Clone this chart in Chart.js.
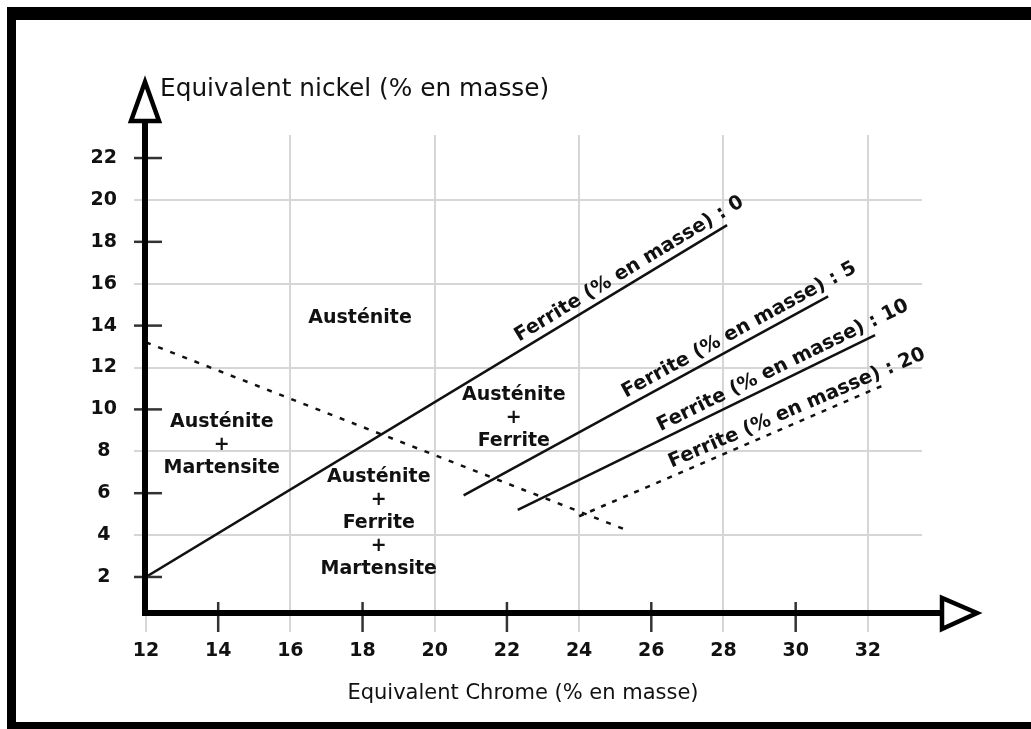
<!DOCTYPE html>
<html>
<head>
<meta charset="utf-8">
<script src="https://cdn.jsdelivr.net/npm/chart.js@4.4.1/dist/chart.umd.min.js"></script>
<style>
  html, body { margin: 0; padding: 0; background: #ffffff; }
  #wrap { width: 1031px; height: 729px; position: relative; }
</style>
</head>
<body>
<div id="wrap"><canvas id="c" width="1031" height="729"></canvas></div>
<script>
// ---- data ----
const xTicks = [12, 14, 16, 18, 20, 22, 24, 26, 28, 30, 32];
const yTicks = [2, 4, 6, 8, 10, 12, 14, 16, 18, 20, 22];
const xAxisTitle = "Equivalent Chrome (% en masse)";
const yAxisTitle = "Equivalent nickel (% en masse)";

const ferriteLevels = [0, 5, 10, 20];
const ferriteStartX = [12.0, 20.8, 22.3, 24.0];
const ferriteStartY = [2.0, 5.9, 5.2, 4.9];
const ferriteEndX = [28.1, 30.9, 32.2, 32.5];
const ferriteEndY = [18.8, 15.4, 13.55, 11.2];
const ferriteLabelX = [22.45, 25.4, 26.35, 26.65];

const martensiteX = [12.0, 25.3];
const martensiteY = [13.2, 4.25];

const regionTexts = [
  ["Austénite"],
  ["Austénite", "+", "Martensite"],
  ["Austénite", "+", "Ferrite"],
  ["Austénite", "+", "Ferrite", "+", "Martensite"]
];
const regionX = [17.93, 14.1, 22.19, 18.45];
const regionY = [14.36, 8.3, 9.59, 4.58];

// ---- build datasets ----
const datasets = [];
ferriteLevels.forEach((lvl, i) => {
  datasets.push({
    label: "Ferrite " + lvl,
    data: [{x: ferriteStartX[i], y: ferriteStartY[i]}, {x: ferriteEndX[i], y: ferriteEndY[i]}],
    showLine: true,
    borderColor: '#111111',
    borderWidth: 2.5,
    borderDash: lvl === 20 ? [5, 7] : [],
    pointRadius: 0,
    fill: false
  });
});
datasets.push({
  label: "Martensite",
  data: martensiteX.map((x, i) => ({x: x, y: martensiteY[i]})),
  showLine: true,
  borderColor: '#111111',
  borderWidth: 2.5,
  borderDash: [5, 8],
  pointRadius: 0,
  fill: false
});

const LIGHT = '#d6d6d6';
const FONT = "'DejaVu Sans', 'Noto Sans', sans-serif";

const decor = {
  id: 'decor',
  afterDraw(chart) {
    const ctx = chart.ctx;
    const xs = chart.scales.x, ys = chart.scales.y;
    const area = chart.chartArea;
    const x0 = xs.getPixelForValue(xTicks[0]);
    const yb = area.bottom;
    ctx.save();

    // dark tick marks
    ctx.strokeStyle = '#333333';
    ctx.lineWidth = 2.5;
    yTicks.forEach(v => {
      if (v % 4 !== 0) {
        const p = ys.getPixelForValue(v);
        ctx.beginPath(); ctx.moveTo(x0 - 12, p); ctx.lineTo(x0 + 16, p); ctx.stroke();
      }
    });
    xTicks.forEach(v => {
      if (v % 4 !== 0 && v !== xTicks[0]) {
        const p = xs.getPixelForValue(v);
        ctx.beginPath(); ctx.moveTo(p, yb - 11); ctx.lineTo(p, yb + 19); ctx.stroke();
      }
    });

    // axes lines
    ctx.strokeStyle = '#000';
    ctx.lineWidth = 6;
    ctx.lineCap = 'butt';
    ctx.beginPath(); ctx.moveTo(x0 - 1, yb + 3); ctx.lineTo(x0 - 1, 122); ctx.stroke();
    ctx.beginPath(); ctx.moveTo(x0 - 4, yb); ctx.lineTo(942, yb); ctx.stroke();
    // arrows
    ctx.lineWidth = 4.5;
    ctx.lineJoin = 'miter';
    ctx.fillStyle = '#fff';
    ctx.beginPath();
    ctx.moveTo(x0 - 15, 121); ctx.lineTo(x0 + 13, 121); ctx.lineTo(x0 - 1, 82); ctx.closePath();
    ctx.fill(); ctx.stroke();
    ctx.beginPath();
    ctx.moveTo(942, yb - 15); ctx.lineTo(942, yb + 16); ctx.lineTo(977, yb); ctx.closePath();
    ctx.fill(); ctx.stroke();

    // axis titles
    ctx.fillStyle = '#111';
    ctx.textBaseline = 'alphabetic';
    ctx.textAlign = 'left';
    ctx.font = "24.8px " + FONT;
    ctx.fillText(yAxisTitle, 160, 96);
    ctx.textAlign = 'center';
    ctx.font = "21px " + FONT;
    ctx.fillText(xAxisTitle, 523, 699);

    // region labels
    ctx.font = "bold 19px " + FONT;
    ctx.textBaseline = 'middle';
    ctx.textAlign = 'center';
    regionTexts.forEach((lines, i) => {
      const cx = xs.getPixelForValue(regionX[i]);
      const cy = ys.getPixelForValue(regionY[i]);
      const n = lines.length;
      lines.forEach((t, j) => {
        ctx.fillText(t, cx, cy + (j - (n - 1) / 2) * 23);
      });
    });

    // ferrite labels along lines
    ctx.font = "bold 19.5px " + FONT;
    ctx.textAlign = 'left';
    ctx.textBaseline = 'alphabetic';
    ferriteLevels.forEach((lvl, i) => {
      const x1 = xs.getPixelForValue(ferriteStartX[i]), y1 = ys.getPixelForValue(ferriteStartY[i]);
      const x2 = xs.getPixelForValue(ferriteEndX[i]), y2 = ys.getPixelForValue(ferriteEndY[i]);
      const ang = Math.atan2(y2 - y1, x2 - x1);
      const lx = xs.getPixelForValue(ferriteLabelX[i]);
      const ly = y1 + (lx - x1) * (y2 - y1) / (x2 - x1);
      ctx.save();
      ctx.translate(lx, ly);
      ctx.rotate(ang);
      ctx.fillText("Ferrite (% en masse) : " + lvl, 0, -8);
      ctx.restore();
    });

    // frame
    ctx.fillStyle = '#000';
    ctx.fillRect(7, 7, 1031 - 7, 13);
    ctx.fillRect(7, 7, 9, 729 - 7);
    ctx.fillRect(7, 722, 1031 - 7, 7);
    ctx.restore();
  }
};

new Chart(document.getElementById('c'), {
  type: 'scatter',
  data: { datasets: datasets },
  options: {
    responsive: false,
    animation: false,
    layout: { padding: { left: 16, top: 135, right: 109, bottom: 0 } },
    plugins: { legend: { display: false }, tooltip: { enabled: false } },
    scales: {
      x: {
        type: 'linear',
        min: 12, max: 33.5,
        afterBuildTicks: s => { s.ticks = xTicks.map(v => ({value: v})); },
        afterFit: s => { s.height = 116; },
        border: { display: false },
        grid: {
          color: c => (c.tick && c.tick.value % 4 === 0) ? LIGHT : 'rgba(0,0,0,0)',
          tickColor: c => (c.tick && c.tick.value % 4 === 0) ? LIGHT : 'rgba(0,0,0,0)',
          lineWidth: 2,
          tickLength: 19
        },
        ticks: {
          autoSkip: false, maxRotation: 0, padding: 8,
          color: '#111',
          font: { family: FONT, size: 19, weight: 'bold' }
        }
      },
      y: {
        type: 'linear',
        min: 0.28, max: 23.1,
        afterBuildTicks: s => { s.ticks = yTicks.map(v => ({value: v})); },
        afterFit: s => { s.width = 130; },
        border: { display: false },
        grid: {
          color: c => (c.tick && c.tick.value % 4 === 0) ? LIGHT : 'rgba(0,0,0,0)',
          tickColor: c => (c.tick && c.tick.value % 4 === 0) ? LIGHT : 'rgba(0,0,0,0)',
          lineWidth: 2,
          tickLength: 12
        },
        ticks: {
          autoSkip: false, padding: 17, crossAlign: 'center',
          color: '#111',
          font: { family: FONT, size: 19, weight: 'bold' }
        }
      }
    }
  },
  plugins: [decor]
});
</script>
</body>
</html>
